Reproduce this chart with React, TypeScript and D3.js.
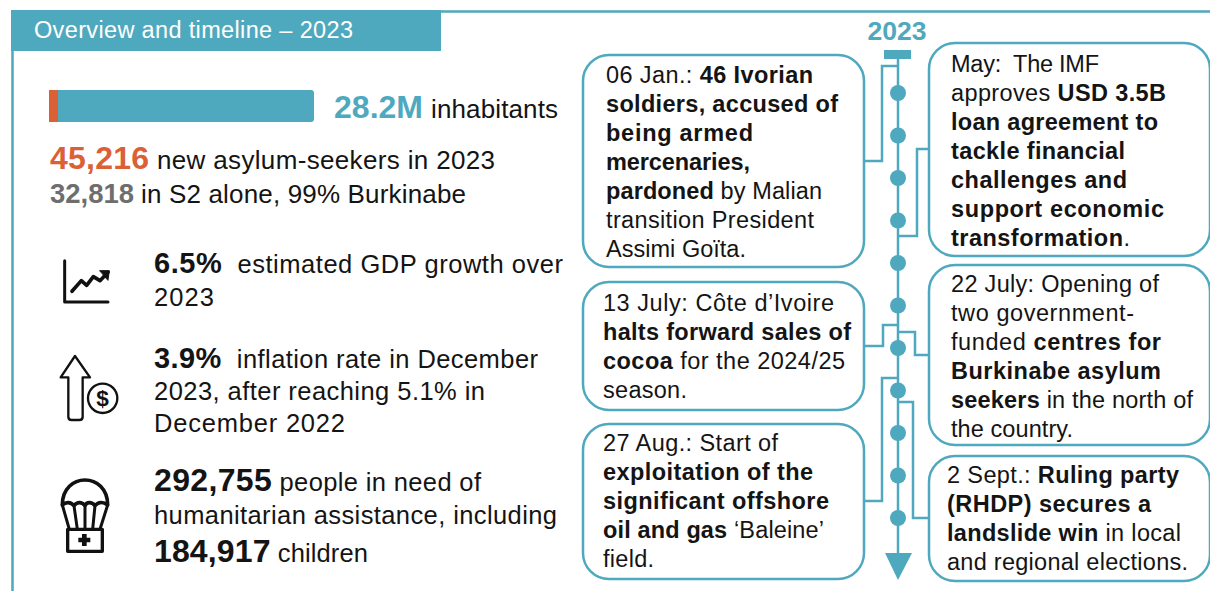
import React, { useEffect, useRef } from 'react';
import * as d3 from 'd3';

type Run = [string, number?];
// run flag: 1 = bold

const timelineStops = ['Feb', 'Mar', 'Apr', 'May', 'Jun', 'Jul', 'Aug', 'Sep', 'Oct', 'Nov', 'Dec'];
const populationShares = [3.4, 96.6];

const statLines: Run[][] = [
  [['6.5%', 1], ['  estimated GDP growth over']],
  [['2023']],
  [['3.9%', 1], ['  inflation rate in December']],
  [['2023, after reaching 5.1% in']],
  [['December 2022']],
  [['292,755', 1], [' people in need of']],
  [['humanitarian assistance, including']],
  [['184,917', 1], [' children']],
];

const leftEvents: Run[][][] = [
  [
    [['06 Jan.: '], ['46 Ivorian', 1]],
    [['soldiers, accused of', 1]],
    [['being armed', 1]],
    [['mercenaries,', 1]],
    [['pardoned', 1], [' by Malian']],
    [['transition President']],
    [['Assimi Goïta.']],
  ],
  [
    [['13 July: Côte d’Ivoire']],
    [['halts forward sales of', 1]],
    [['cocoa', 1], [' for the 2024/25']],
    [['season.']],
  ],
  [
    [['27 Aug.: Start of']],
    [['exploitation of the', 1]],
    [['significant offshore', 1]],
    [['oil and gas', 1], [' ‘Baleine’']],
    [['field.']],
  ],
];

const rightEvents: Run[][][] = [
  [
    [['May:  The IMF']],
    [['approves '], ['USD 3.5B', 1]],
    [['loan agreement to', 1]],
    [['tackle financial', 1]],
    [['challenges and', 1]],
    [['support economic', 1]],
    [['transformation', 1], ['.']],
  ],
  [
    [['22 July: Opening of']],
    [['two government-']],
    [['funded '], ['centres for', 1]],
    [['Burkinabe asylum', 1]],
    [['seekers', 1], [' in the north of']],
    [['the country.']],
  ],
  [
    [['2 Sept.: '], ['Ruling party', 1]],
    [['(RHDP) secures a', 1]],
    [['landslide win', 1], [' in local']],
    [['and regional elections.']],
  ],
];

const TEAL = '#4fa9be';
const ORANGE = '#dc6035';
const GREY = '#6e6e6e';
const INK = '#141414';
const FONT = '"Liberation Sans", Arial, sans-serif';

export default function App() {
  const ref = useRef<SVGSVGElement>(null);

  useEffect(() => {
    const svg = d3.select(ref.current);
    svg.selectAll('*').remove();

    // frame and header
    svg.append('path')
      .attr('d', 'M12.5,591V11.5H1210')
      .attr('fill', 'none').attr('stroke', TEAL).attr('stroke-width', 2.5);
    svg.append('rect').attr('x', 11).attr('y', 10).attr('width', 430).attr('height', 41).attr('fill', TEAL);
    svg.append('text').attr('x', 34).attr('y', 38).attr('fill', '#fff')
      .attr('font-size', 23.5).attr('textLength', 319).text('Overview and timeline – 2023');

    // writes a line of mixed bold / regular runs, stretched to the measured width
    const writeLine = (g: any, runs: Run[], x: number, y: number, x2: number, size: number, color = INK) => {
      const t = g.append('text').attr('x', x).attr('y', y).attr('font-size', size)
        .attr('fill', color).attr('xml:space', 'preserve').attr('textLength', x2 - x);
      runs.forEach(([s, b]) => t.append('tspan').attr('font-weight', b ? 700 : 400).text(s));
      return t;
    };

    // population bar
    const popX = d3.scaleLinear().domain([0, 100]).range([49, 314]);
    svg.append('rect').attr('x', popX(0)).attr('y', 90).attr('width', popX(100) - popX(0)).attr('height', 32)
      .attr('rx', 3).attr('fill', TEAL);
    svg.append('rect').attr('x', popX(0)).attr('y', 90).attr('width', popX(populationShares[0]) - popX(0)).attr('height', 32)
      .attr('fill', ORANGE);

    const headline = svg.append('g');
    headline.append('text').attr('x', 334).attr('y', 118).attr('font-size', 32).attr('font-weight', 700)
      .attr('fill', TEAL).attr('textLength', 89).text('28.2M');
    headline.append('text').attr('x', 431).attr('y', 118).attr('font-size', 26).attr('fill', INK)
      .attr('textLength', 127).text('inhabitants');
    headline.append('text').attr('x', 50).attr('y', 169).attr('font-size', 32).attr('font-weight', 700)
      .attr('fill', ORANGE).attr('textLength', 99).text('45,216');
    headline.append('text').attr('x', 157).attr('y', 169).attr('font-size', 26).attr('fill', INK)
      .attr('textLength', 338).text('new asylum-seekers in 2023');
    headline.append('text').attr('x', 50).attr('y', 203).attr('font-size', 27.5).attr('font-weight', 700)
      .attr('fill', GREY).attr('textLength', 84).text('32,818');
    headline.append('text').attr('x', 141).attr('y', 203).attr('font-size', 26).attr('fill', INK)
      .attr('textLength', 325).text('in S2 alone, 99% Burkinabe');

    // stat lines
    const statY = [273, 306, 368, 400, 432, 491, 524, 562];
    const statEnd = [563, 214, 538, 485, 345, 481, 557, 368];
    statLines.forEach((runs, i) => {
      const line = writeLine(svg, runs, 154, statY[i], statEnd[i], 25.5);
      if (runs[0][1]) line.select('tspan').attr('font-size', i === 5 || i === 7 ? 32 : 29);
    });

    // icons, drawn in a 3x grid
    const icons = svg.append('g').attr('transform', 'translate(40,240) scale(0.3333)')
      .attr('fill', 'none').attr('stroke', '#111').attr('stroke-linejoin', 'round').attr('stroke-linecap', 'round');
    icons.append('path').attr('d', 'M74,62V186H204').attr('stroke-width', 9);
    icons.append('path').attr('d', 'M96,154L124,122L140,136L160,110L180,122L204,97').attr('stroke-width', 11);
    icons.append('path').attr('d', 'M180,92L208,92L204,120Z').attr('fill', '#111').attr('stroke-width', 3);
    icons.append('path')
      .attr('d', 'M105,348L150,412H128V530Q128,540 118,540H95Q85,540 85,530V412H62Z')
      .attr('stroke-width', 7);
    icons.append('circle').attr('cx', 188).attr('cy', 475).attr('r', 44).attr('stroke-width', 7);
    icons.append('text').attr('x', 188).attr('y', 499).attr('text-anchor', 'middle').attr('font-size', 68)
      .attr('font-weight', 700).attr('fill', '#111').attr('stroke', 'none').text('$');
    icons.append('path')
      .attr('d', 'M67,795C67,695 203,695 203,795C190,785 175,785 165,797C155,785 140,785 135,797C125,785 112,785 102,797C92,785 78,785 67,795Z')
      .attr('stroke-width', 11);
    icons.append('path').attr('d', 'M67,795L88,868M102,797L112,868M135,797V868M165,797L158,868M203,795L180,868').attr('stroke-width', 9);
    icons.append('rect').attr('x', 83).attr('y', 868).attr('width', 104).attr('height', 66).attr('stroke-width', 10);
    icons.append('path').attr('d', 'M133,882V918M115,900H151').attr('stroke-width', 14).attr('stroke-linecap', 'butt');

    // timeline
    const axisX = 898;
    const y = d3.scalePoint().domain(timelineStops).range([93, 518]);
    const link = d3.line();
    const tl = svg.append('g');
    tl.append('text').attr('x', axisX - 1).attr('y', 40).attr('text-anchor', 'middle').attr('font-size', 26.5)
      .attr('font-weight', 700).attr('fill', TEAL).text('2023');
    tl.append('rect').attr('x', 884).attr('y', 50).attr('width', 27).attr('height', 9).attr('fill', TEAL);
    tl.append('path').attr('d', link([[axisX, 59], [axisX, 556]])!).attr('stroke', TEAL).attr('stroke-width', 2.5);
    tl.append('path').attr('d', `M${axisX - 13},553H${axisX + 14}L${axisX},580Z`).attr('fill', TEAL);
    tl.selectAll('circle').data(timelineStops).join('circle')
      .attr('cx', axisX).attr('cy', (d) => y(d)!).attr('r', 8).attr('fill', TEAL);

    const connectors: [number, number][][] = [
      [[864, 161], [882, 161], [882, 66], [axisX, 66]],
      [[929, 149], [917, 149], [917, 236], [axisX, 236]],
      [[864, 346], [883, 346], [883, 325], [axisX, 325]],
      [[929, 355], [915, 355], [915, 332], [axisX, 332]],
      [[864, 501], [882, 501], [882, 378], [axisX, 378]],
      [[929, 518], [913, 518], [913, 402], [axisX, 402]],
    ];
    tl.selectAll('path.link').data(connectors).join('path').attr('class', 'link')
      .attr('d', (d) => link(d)).attr('fill', 'none').attr('stroke', TEAL).attr('stroke-width', 2.5);

    // event boxes
    const leftBoxes = [
      { x: 583, y: 55, h: 212, tx: 606, ty: 83, dy: 29, ends: [813, 838, 753, 750, 822, 814, 746] },
      { x: 583, y: 282, h: 128, tx: 603, ty: 311, dy: 29, ends: [834, 851, 845, 687] },
      { x: 583, y: 424, h: 155, tx: 603, ty: 451, dy: 29, ends: [778, 813, 829, 824, 654] },
    ];
    const rightBoxes = [
      { x: 929, y: 43, h: 213, tx: 951, ty: 72, dy: 29, ends: [1099, 1166, 1158, 1125, 1127, 1164, 1130] },
      { x: 929, y: 265, h: 180, tx: 951, ty: 292, dy: 29, ends: [1159, 1134, 1161, 1161, 1193, 1073] },
      { x: 929, y: 456, h: 125, tx: 947, ty: 483, dy: 29, ends: [1179, 1151, 1181, 1188] },
    ];
    const drawBoxes = (boxes: typeof leftBoxes, events: Run[][][], w: number) => {
      boxes.forEach((b, i) => {
        svg.append('rect').attr('x', b.x).attr('y', b.y).attr('width', w).attr('height', b.h)
          .attr('rx', 26).attr('fill', '#fff').attr('stroke', TEAL).attr('stroke-width', 2.5);
        events[i].forEach((runs, j) => {
          writeLine(svg, runs, b.tx, b.ty + j * b.dy, b.ends[j], 23.5);
        });
      });
    };
    drawBoxes(leftBoxes, leftEvents, 281);
    drawBoxes(rightBoxes, rightEvents, 281);
  }, []);

  return (
    <svg
      ref={ref}
      width={1210}
      height={591}
      style={{ position: 'absolute', left: 0, top: 0, fontFamily: FONT, background: '#fff' }}
    />
  );
}
